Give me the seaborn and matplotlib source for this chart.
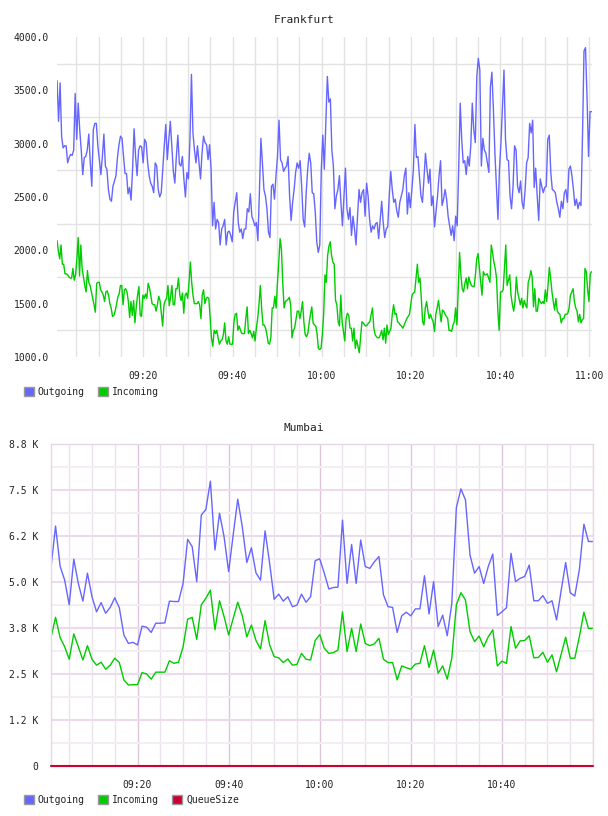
import matplotlib
matplotlib.use("Agg")
import matplotlib.pyplot as plt
import matplotlib.dates as mdates
from matplotlib.patches import Patch
from matplotlib.ticker import FixedLocator, FuncFormatter
import numpy as np
import pandas as pd
import seaborn as sns

# ---- data ------------------------------------------------------------------
frankfurt_start = "2024-01-01 09:00:40"
frankfurt_end = "2024-01-01 11:00:30"

frankfurt_out = [
    3590, 3210, 3570, 3070, 2960, 2980, 2980, 2820, 2870, 2900, 2890, 2940,
    3470, 3040, 3380, 3130, 2940, 2710, 2870, 2880, 2940, 3090, 2820, 2600,
    3130, 3190, 3190, 2980, 2850, 2710, 2880, 3090, 2790, 2760, 2570, 2480,
    2460, 2600, 2650, 2700, 2870, 2990, 3070, 3050, 2880, 2720, 2720, 2530,
    2590, 2470, 2760, 3140, 2880, 2700, 2940, 2980, 2970, 2820, 3040, 3010,
    2820, 2700, 2630, 2600, 2540, 2820, 2790, 2570, 2500, 2540, 2760, 2980,
    3180, 2850, 3040, 3210, 2980, 2740, 2630, 2880, 3080, 2810, 2790, 2880,
    2670, 2500, 2730, 2670, 3040, 3650, 3100, 2940, 2820,
    2980, 2820, 2670, 2910, 3070, 3010, 2990, 2850, 2990, 2760,
    2230, 2450, 2200, 2290, 2260, 2050, 2200, 2230, 2290, 2050,
    2170, 2180, 2140, 2080, 2360, 2450, 2540, 2260, 2170, 2200,
    2110, 2200, 2200, 2390, 2360, 2530, 2320, 2280, 2230, 2260,
    2090, 2540, 3050, 2820, 2570, 2510, 2390, 2170, 2120, 2600,
    2620, 2480, 2700, 2880, 3220, 2850, 2820, 2740, 2770, 2790,
    2880, 2510, 2280, 2450, 2570, 2730, 2820, 2770, 2840, 2600,
    2290, 2220, 2540, 2760, 2910, 2820, 2540, 2530, 2360, 2080,
    1980, 2050, 2760, 3080, 2760, 3190, 3630, 3390,
    3420, 2940, 2790, 2390, 2510, 2570, 2700, 2450, 2230, 2510,
    2770, 2390, 2290, 2400, 2140, 2320, 2200, 2050, 2320, 2570,
    2450, 2540, 2570, 2320, 2630, 2510, 2290, 2170, 2230, 2200,
    2250, 2260, 2110, 2290, 2460, 2260, 2120, 2200, 2220, 2510,
    2740, 2570, 2450, 2480, 2370, 2310, 2450, 2510, 2570, 2700,
    2770, 2340, 2540, 2400, 2570, 2760, 3180, 2870, 2880, 2700,
    2510, 2450, 2670, 2910, 2760, 2630, 2760, 2420, 2510, 2220,
    2360, 2510, 2700, 2840, 2420, 2480, 2570, 2480, 2320, 2230,
    2140, 2230, 2090, 2320, 2230, 2760, 3380, 3040, 2820, 2840,
    2710, 2880,
    2790, 2980, 3380, 3130, 3010, 3630, 3800, 3690, 2790, 3050,
    2940, 2910, 2820, 2730, 3530, 3670, 3320, 2910, 2600, 2290,
    2760, 3010, 3350, 3690, 3040, 2850, 2840, 2510, 2390, 2600,
    2980, 2940, 2600, 2540, 2650, 2450, 2390, 2570, 2820, 2870,
    3190, 3100, 3220, 2590, 2770, 2510, 2280, 2670, 2600, 2540,
    2590, 2600, 3040, 3080, 2730, 2570, 2560, 2540, 2450, 2390,
    2310, 2460, 2390, 2540, 2570, 2450, 2760, 2790, 2700, 2570,
    2420, 2480, 2390, 2450, 2420, 3070, 3870, 3900, 3440, 2880,
    3300, 3300,
]

frankfurt_in = [
    2090, 1990, 1920, 2050, 1870, 1870, 1780, 1780, 1770, 1750,
    1740, 1740, 1830, 1720, 1770, 1920, 2120, 1760, 2050, 1830,
    1750, 1670, 1610, 1810, 1700, 1670, 1610, 1550, 1490, 1420,
    1690, 1700, 1700, 1630, 1610, 1580, 1520, 1610, 1620, 1580,
    1500, 1460, 1380, 1390, 1430, 1490, 1560, 1590, 1670, 1670,
    1490, 1630, 1640, 1610, 1520, 1370, 1520, 1390, 1530, 1320,
    1470, 1580, 1660, 1390, 1380, 1580, 1550, 1590, 1550, 1690,
    1650, 1580, 1500, 1490, 1490, 1430, 1490, 1570, 1530, 1410,
    1290, 1490, 1530, 1550, 1670, 1480, 1560, 1670, 1490, 1490,
    1640, 1640, 1740, 1580, 1530, 1600, 1410, 1580, 1600, 1550,
    1700, 1890, 1700, 1580, 1500, 1500,
    1500, 1520, 1490, 1360, 1580, 1630, 1500, 1550, 1560, 1550,
    1360, 1180, 1100, 1250, 1220, 1250, 1180, 1120, 1150, 1160,
    1210, 1320, 1150, 1120, 1190, 1120, 1120, 1120, 1330, 1400,
    1410, 1250, 1290, 1250, 1220, 1220, 1220, 1360, 1470, 1220,
    1250, 1220, 1180, 1240, 1150, 1270, 1360, 1490, 1670, 1460,
    1300, 1300, 1270, 1210, 1130, 1120, 1180, 1460, 1460, 1570,
    1460, 1700, 1890, 2110, 2010, 1700, 1460, 1520, 1530, 1540,
    1560, 1490, 1180, 1250, 1270, 1350, 1430, 1430, 1360, 1430,
    1520, 1330, 1210, 1190, 1220, 1320, 1400, 1470, 1320, 1300,
    1290, 1220, 1080, 1070, 1080, 1210, 1400, 1770, 1700, 1950,
    2040, 2080, 1950,
    1890, 1870, 1530, 1490, 1330, 1290, 1580, 1330, 1240, 1150,
    1360, 1410, 1390, 1270, 1270, 1150, 1270, 1080, 1160, 1100,
    1040, 1180, 1330, 1320, 1300, 1290, 1300, 1320, 1330, 1400,
    1460, 1270, 1210, 1190, 1180, 1180, 1210, 1250, 1160, 1270,
    1130, 1300, 1210, 1240, 1270, 1400, 1490, 1400, 1410, 1330,
    1320, 1300, 1290, 1270, 1300, 1330, 1360, 1380, 1400, 1490,
    1580, 1600, 1610, 1740, 1870, 1700, 1740, 1550, 1330, 1300,
    1460, 1520, 1430, 1360, 1400, 1360, 1330, 1240, 1400, 1460,
    1530, 1430, 1330, 1440, 1430, 1400, 1380, 1360, 1250, 1250,
    1240, 1300, 1330, 1460, 1300, 1640, 1980, 1770, 1640, 1610,
    1690,
    1740, 1640, 1750, 1700, 1670, 1660, 1660, 1770, 1920, 1970,
    1830, 1700, 1580, 1800, 1770, 1770, 1780, 1740, 1700, 2050,
    1980, 1890, 1830, 1740, 1430, 1250, 1610, 1610, 1630, 1830,
    2050, 1670, 1720, 1770, 1580, 1490, 1430, 1520, 1750, 1610,
    1550, 1490, 1550, 1460, 1530, 1490, 1460, 1700, 1740, 1810,
    1750, 1470, 1640, 1430, 1430, 1550, 1520, 1500, 1520, 1500,
    1630, 1520, 1670, 1840, 1740, 1610, 1520, 1440, 1550, 1430,
    1410, 1400, 1320, 1360, 1360, 1400, 1400, 1410, 1460, 1580,
    1610, 1640, 1520, 1460, 1430, 1330, 1400, 1320, 1350, 1360,
    1830, 1800, 1640, 1520, 1780, 1800,
]

mumbai_start = "2024-01-01 09:01"
mumbai_end = "2024-01-01 11:00"

mumbai_out = [
    5400, 6520, 5430, 5050, 4380, 5620, 4960, 4480, 5240, 4600,
    4190, 4440, 4150, 4310, 4570, 4300, 3560, 3330, 3360, 3290,
    3800, 3770, 3630, 3880, 3880, 3890, 4480, 4470, 4470, 4960,
    6160, 5960, 5010, 6820, 6970, 7740, 5870, 6870, 6230, 5280,
    6280, 7250, 6500, 5530, 5930, 5250, 5050, 6390, 5510, 4530,
    4670, 4480, 4600, 4330, 4370, 4670, 4450, 4600, 5580, 5630,
    5240, 4810, 4850, 4860, 6680, 4960, 6020, 4960, 6140, 5420,
    5370, 5550, 5690, 4650, 4330, 4310, 3630, 4080, 4180, 4080,
    4270, 4270, 5170, 4130, 5010, 3790, 4100, 3540, 4420, 7020,
    7530, 7230, 5730, 5240, 5420, 4960, 5420, 5760, 4090, 4190,
    4300, 5780, 5010, 5100, 5150, 5460, 4490, 4490, 4630, 4420,
    4490, 3970, 4760, 5530, 4710, 4620, 5330, 6570, 6100, 6100,
]

mumbai_in = [
    3490, 4040, 3490, 3240, 2900, 3590, 3240, 2880, 3270, 2900,
    2740, 2820, 2630, 2740, 2930, 2810, 2340, 2200, 2210, 2210,
    2540, 2500, 2360, 2550, 2550, 2550, 2860, 2790, 2820, 3240,
    3990, 4040, 3440, 4380, 4560, 4780, 3700, 4490, 4060, 3560,
    4010, 4450, 4080, 3510, 3830, 3410, 3180, 3950, 3290, 2970,
    2940, 2810, 2910, 2740, 2760, 3060, 2900, 2880, 3410, 3570,
    3200, 3060, 3080, 3150, 4190, 3110, 3740, 3110, 3860, 3330,
    3270, 3320, 3470, 2900, 2810, 2810, 2340, 2720, 2670, 2630,
    2770, 2790, 3270, 2680, 3150, 2520, 2720, 2360, 2930, 4380,
    4710, 4510, 3650, 3380, 3530, 3240, 3510, 3700, 2720, 2850,
    2790, 3790, 3200, 3400, 3410, 3540, 2940, 2950, 3090, 2820,
    3020, 2560, 3030, 3500, 2930, 2930, 3510, 4180, 3740, 3740,
]

mumbai_queue = [0] * len(mumbai_out)

# ---- style -----------------------------------------------------------------
OUT_COLOR = "#6666ff"
IN_COLOR = "#00cc00"
QUEUE_COLOR = "#cc0033"
TEXT_COLOR = "#222222"

sns.set_style("white")
plt.rcParams["font.family"] = ["DejaVu Sans Mono", "DejaVu Sans"]
plt.rcParams["text.color"] = TEXT_COLOR
plt.rcParams["xtick.color"] = TEXT_COLOR
plt.rcParams["ytick.color"] = TEXT_COLOR

fig = plt.figure(figsize=(6.08, 8.16), dpi=100)
ax1 = fig.add_axes([57 / 608, 1 - 357 / 816, 535 / 608, 320 / 816])
ax2 = fig.add_axes([51 / 608, 1 - 766 / 816, 542 / 608, 322 / 816])


def times(start, end, values):
    return pd.date_range(start, end, periods=len(values))


# ---- Frankfurt -------------------------------------------------------------
sns.lineplot(x=times(frankfurt_start, frankfurt_end, frankfurt_out), y=frankfurt_out,
             ax=ax1, color=OUT_COLOR, lw=1.0, legend=False)
sns.lineplot(x=times(frankfurt_start, frankfurt_end, frankfurt_in), y=frankfurt_in,
             ax=ax1, color=IN_COLOR, lw=1.0, legend=False)

ax1.set_xlim(pd.Timestamp("2024-01-01 09:00:39"), pd.Timestamp("2024-01-01 11:00:36"))
ax1.set_ylim(1000, 4000)
ax1.xaxis.set_major_locator(mdates.MinuteLocator(byminute=[0, 20, 40]))
ax1.xaxis.set_major_formatter(mdates.DateFormatter("%H:%M"))
ax1.xaxis.set_minor_locator(mdates.MinuteLocator(byminute=range(0, 60, 5)))
ax1.yaxis.set_major_locator(FixedLocator(np.arange(1000, 4001, 500)))
ax1.yaxis.set_minor_locator(FixedLocator(np.arange(1250, 4000, 500)))
ax1.yaxis.set_major_formatter(FuncFormatter(lambda v, p: f"{v:.1f}"))
ax1.grid(False)
ax1.grid(True, which="both", axis="x", color="#e2e2e2", lw=1.0)
ax1.grid(True, which="minor", axis="y", color="#e2e2e2", lw=1.0)
ax1.tick_params(which="both", length=0, labelsize=7)
ax1.tick_params(axis="x", pad=10)
ax1.tick_params(axis="y", pad=6)
for s in ax1.spines.values():
    s.set_visible(False)
ax1.set_xlabel("")
ax1.set_ylabel("")

fig.text(0.5, 1 - 20 / 816, "Frankfurt", ha="center", va="center", fontsize=8)

fig.legend(handles=[Patch(facecolor=OUT_COLOR, edgecolor="#999999", label="Outgoing"),
                    Patch(facecolor=IN_COLOR, edgecolor="#999999", label="Incoming")],
           loc="center left", bbox_to_anchor=(24 / 608, 1 - 392 / 816), ncol=2,
           frameon=False, fontsize=7, handlelength=1.0, handleheight=1.0,
           handletextpad=0.4, columnspacing=1.4, borderpad=0, borderaxespad=0)

# ---- Mumbai ----------------------------------------------------------------
m_times = times(mumbai_start, mumbai_end, mumbai_out)
sns.lineplot(x=m_times, y=mumbai_out, ax=ax2, color=OUT_COLOR, lw=1.0, legend=False)
sns.lineplot(x=m_times, y=mumbai_in, ax=ax2, color=IN_COLOR, lw=1.0, legend=False)
sns.lineplot(x=m_times, y=mumbai_queue, ax=ax2, color=QUEUE_COLOR, lw=1.5,
             legend=False, clip_on=False, zorder=5)

ax2.set_xlim(pd.Timestamp("2024-01-01 09:01"), pd.Timestamp("2024-01-01 11:00"))
ax2.set_ylim(0, 8750)
ax2.set_xticks(pd.date_range("2024-01-01 09:20", "2024-01-01 10:40", freq="20min"))
ax2.xaxis.set_major_formatter(mdates.DateFormatter("%H:%M"))
ax2.xaxis.set_minor_locator(mdates.MinuteLocator(byminute=range(0, 60, 5)))
ax2.yaxis.set_major_locator(FixedLocator(np.arange(0, 8751, 1250)))
ax2.yaxis.set_minor_locator(FixedLocator(np.arange(625, 8750, 1250)))
ax2.yaxis.set_major_formatter(
    FuncFormatter(lambda v, p: "0" if v == 0 else f"{v / 1000:.1f} K"))
ax2.grid(False)
ax2.grid(True, which="major", axis="x", color="#dcc6dc", lw=1.0)
ax2.grid(True, which="minor", axis="x", color="#ebe3eb", lw=1.0)
ax2.grid(True, which="major", axis="y", color="#eddbed", lw=1.5)
ax2.grid(True, which="minor", axis="y", color="#f2eef2", lw=1.5)
ax2.tick_params(which="both", length=0, labelsize=7)
ax2.tick_params(axis="x", pad=10)
ax2.tick_params(axis="y", pad=9)
for s in ax2.spines.values():
    s.set_color("#e6d6e6")
    s.set_linewidth(1.0)
ax2.set_xlabel("")
ax2.set_ylabel("")

fig.text(0.5, 1 - 428 / 816, "Mumbai", ha="center", va="center", fontsize=8)

fig.legend(handles=[Patch(facecolor=OUT_COLOR, edgecolor="#999999", label="Outgoing"),
                    Patch(facecolor=IN_COLOR, edgecolor="#999999", label="Incoming"),
                    Patch(facecolor=QUEUE_COLOR, edgecolor="#999999", label="QueueSize")],
           loc="center left", bbox_to_anchor=(24 / 608, 1 - 800 / 816), ncol=3,
           frameon=False, fontsize=7, handlelength=1.0, handleheight=1.0,
           handletextpad=0.4, columnspacing=1.4, borderpad=0, borderaxespad=0)

fig.savefig("out.png", dpi=100)
